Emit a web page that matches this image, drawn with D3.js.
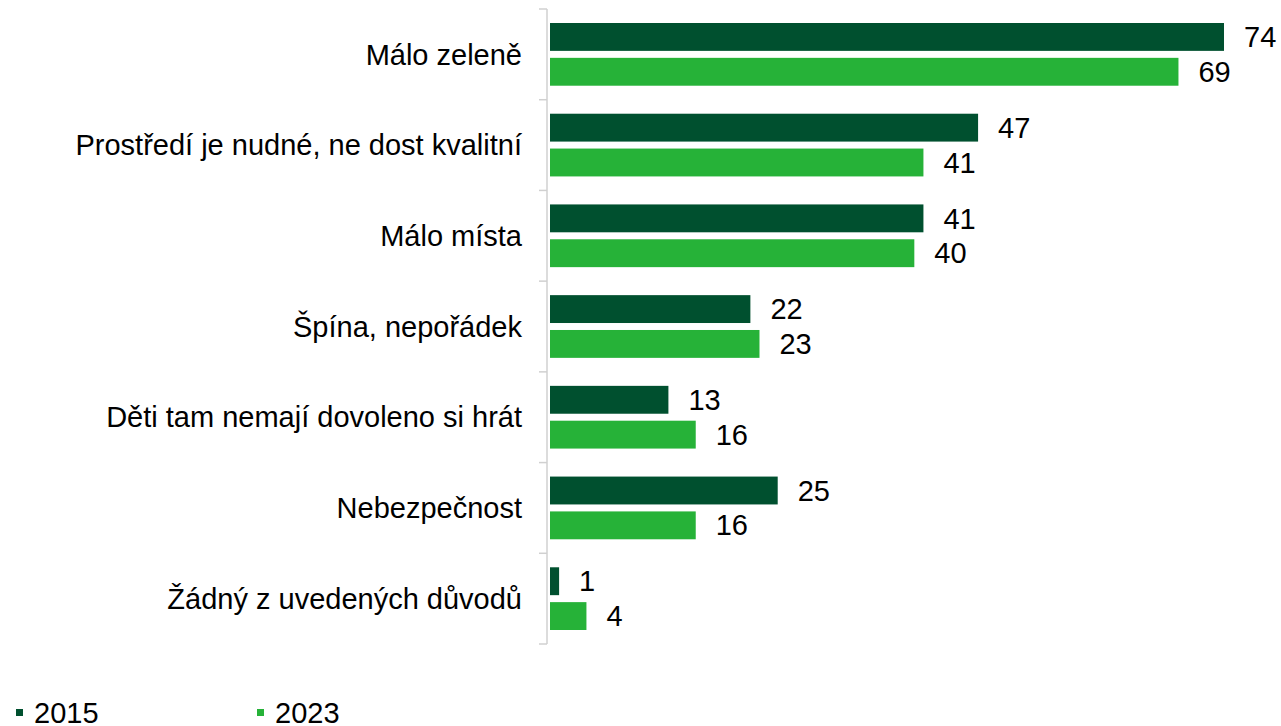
<!DOCTYPE html>
<html>
<head>
<meta charset="utf-8">
<script src="https://cdn.jsdelivr.net/npm/d3@7"></script>
<style>
  body { margin: 0; background: #fff; overflow: hidden; }
  text { font-family: "Liberation Sans", Arial, sans-serif; fill: #000; }
</style>
</head>
<body>
<div id="container"></div>
<script>
/* DATA */
var categories = ["Málo zeleně", "Prostředí je nudné, ne dost kvalitní", "Málo místa",
  "Špína, nepořádek", "Děti tam nemají dovoleno si hrát", "Nebezpečnost", "Žádný z uvedených důvodů"];
var years = ["2015", "2023"];
var values2015 = [74, 47, 41, 22, 13, 25, 1];
var values2023 = [69, 41, 40, 23, 16, 16, 4];
var colors = ["#00502f", "#26b238"];

var width = 1281, height = 726;
var fontSize = "29px";

var svg = d3.select("#container")
  .append("svg")
  .attr("width", width)
  .attr("height", height);

// SCALES
var y = d3.scaleBand()
  .domain(categories)
  .range([9, 644]);

var inner = d3.scaleBand()
  .domain(years)
  .range([14, y.bandwidth() - 14])
  .paddingInner(0.2);

var x = d3.scaleLinear()
  .domain([0, 74])
  .range([550, 1224]);

// axis line + ticks
var axisX = 547;
svg.append("line")
  .attr("x1", axisX).attr("x2", axisX)
  .attr("y1", 9).attr("y2", 644)
  .attr("stroke", "#d0d0d0").attr("stroke-width", 1.5);

var bounds = categories.map(c => y(c)).concat([y(categories[categories.length - 1]) + y.bandwidth()]);
svg.selectAll(".tick")
  .data(bounds)
  .enter()
  .append("line")
  .attr("x1", axisX - 8).attr("x2", axisX)
  .attr("y1", d => d).attr("y2", d => d)
  .attr("stroke", "#d0d0d0").attr("stroke-width", 1.5);

// category labels
svg.selectAll(".cat")
  .data(categories)
  .enter()
  .append("text")
  .attr("x", 522)
  .attr("y", d => y(d) + y.bandwidth() / 2)
  .attr("dy", "0.35em")
  .attr("text-anchor", "end")
  .style("font-size", fontSize)
  .text(d => d);

// bars
var rows = [];
categories.forEach(function(c, i) {
  rows.push({ cat: c, year: "2015", value: values2015[i], color: colors[0] });
  rows.push({ cat: c, year: "2023", value: values2023[i], color: colors[1] });
});

svg.selectAll("rect.bar")
  .data(rows)
  .enter()
  .append("rect")
  .attr("class", "bar")
  .attr("x", x(0))
  .attr("y", d => y(d.cat) + inner(d.year))
  .attr("width", d => x(d.value) - x(0))
  .attr("height", inner.bandwidth())
  .attr("fill", d => d.color);

// value labels
svg.selectAll("text.val")
  .data(rows)
  .enter()
  .append("text")
  .attr("class", "val")
  .attr("x", d => x(d.value) + 20)
  .attr("y", d => y(d.cat) + inner(d.year) + inner.bandwidth() / 2)
  .attr("dy", "0.35em")
  .style("font-size", fontSize)
  .text(d => d.value);

// legend
var legendX = [16, 257];
var lg = svg.selectAll(".legend")
  .data(years)
  .enter()
  .append("g")
  .attr("transform", (d, i) => "translate(" + legendX[i] + ",0)");

lg.append("rect")
  .attr("x", 0).attr("y", 709)
  .attr("width", 7).attr("height", 7)
  .attr("fill", (d, i) => colors[i]);

lg.append("text")
  .attr("x", 18).attr("y", 723)
  .style("font-size", fontSize)
  .text(d => d);
</script>
</body>
</html>
